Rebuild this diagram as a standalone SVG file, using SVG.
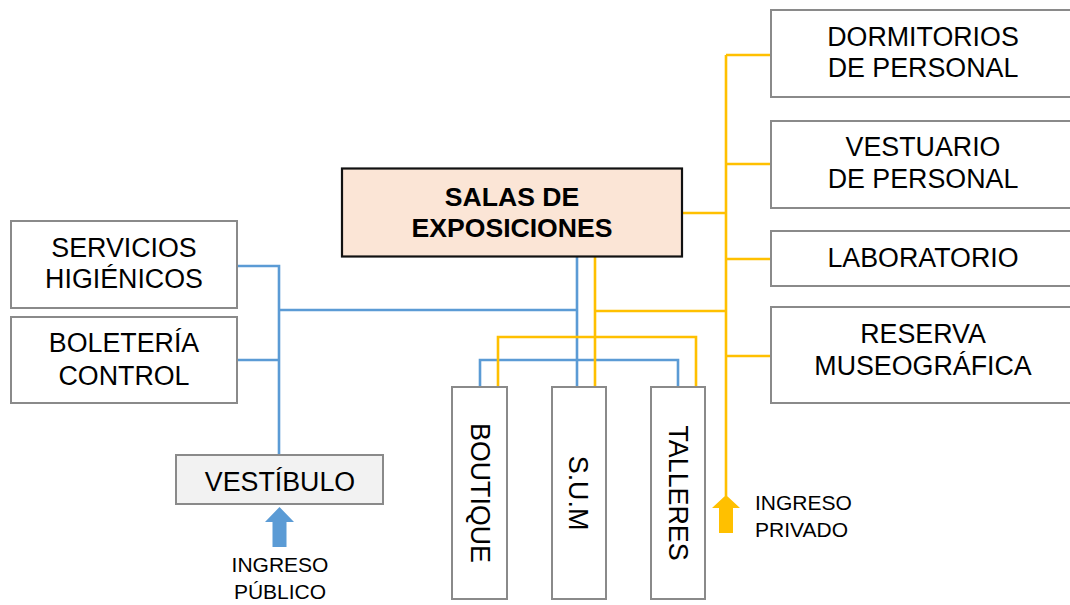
<svg xmlns="http://www.w3.org/2000/svg" width="1070" height="605" viewBox="0 0 1070 605">
<style>
.box{fill:#fff;stroke:#8a8a8a;stroke-width:2}
.main{fill:#fbe5d6;stroke:#111;stroke-width:2.2}
.gray{fill:#f2f2f2;stroke:#8a8a8a;stroke-width:2}
.t{font-family:"Liberation Sans",Arial,sans-serif;font-size:26.8px;fill:#000;text-anchor:middle}
.tb{font-family:"Liberation Sans",Arial,sans-serif;font-size:26.6px;font-weight:bold;fill:#000;text-anchor:middle}
.s{font-family:"Liberation Sans",Arial,sans-serif;font-size:21px;fill:#000}
.blue{fill:none;stroke:#5b9bd5;stroke-width:2.6}
.yel{fill:none;stroke:#ffc000;stroke-width:2.6}
</style>
<rect width="1070" height="605" fill="#fff"/>
<g id="connectors">
  <path class="blue" d="M577,257 V387 M279,310 H577 M480,387 V360 H678 V387 M237,266 H279 V455 M237,360 H279"/>
  <path class="yel" d="M595,257 V387 M595,311 H726 M498,387 V337 H696 V387 M726,55 V496 M726,55 H771 M726,164 H771 M726,259 H771 M726,356 H771 M682,213 H726"/>
  <polygon points="726,495 740,508 733,508 733,533 719,533 719,508 712,508" fill="#ffc000"/>
  <polygon points="279.5,507 294,522 286.5,522 286.5,547 272.5,547 272.5,522 265,522" fill="#5b9bd5"/>
</g>
<g id="salas">
  <rect class="main" x="342" y="168.5" width="340" height="88"/>
  <text class="tb" x="512" y="205.5">SALAS DE</text>
  <text class="tb" x="512" y="236.5">EXPOSICIONES</text>
</g>
<g id="servicios">
  <rect class="box" x="11" y="221" width="226" height="87"/>
  <text class="t" x="124" y="256.5">SERVICIOS</text>
  <text class="t" x="124" y="288">HIGIÉNICOS</text>
</g>
<g id="boleteria">
  <rect class="box" x="11" y="317" width="226" height="86"/>
  <text class="t" x="124" y="351.5">BOLETERÍA</text>
  <text class="t" x="124" y="385">CONTROL</text>
</g>
<g id="vestibulo">
  <rect class="gray" x="176" y="455" width="207" height="49"/>
  <text class="t" x="280" y="490.5">VESTÍBULO</text>
</g>
<g id="ingreso-publico">
  <text class="s" x="280" y="572" text-anchor="middle">INGRESO</text>
  <text class="s" x="280" y="599" text-anchor="middle">PÚBLICO</text>
</g>
<g id="boutique">
  <rect class="box" x="452" y="387" width="55" height="212"/>
  <text class="t" transform="translate(471,493) rotate(90)">BOUTIQUE</text>
</g>
<g id="sum">
  <rect class="box" x="552" y="387" width="54" height="212"/>
  <text class="t" transform="translate(569,493) rotate(90)">S.U.M</text>
</g>
<g id="talleres">
  <rect class="box" x="651" y="387" width="54" height="212"/>
  <text class="t" transform="translate(668.5,493) rotate(90)">TALLERES</text>
</g>
<g id="ingreso-privado">
  <text class="s" x="755" y="510">INGRESO</text>
  <text class="s" x="755" y="537">PRIVADO</text>
</g>
<g id="dormitorios">
  <rect class="box" x="771" y="10" width="310" height="87"/>
  <text class="t" x="923" y="45.5">DORMITORIOS</text>
  <text class="t" x="923" y="77">DE PERSONAL</text>
</g>
<g id="vestuario">
  <rect class="box" x="771" y="121" width="310" height="87"/>
  <text class="t" x="923" y="156">VESTUARIO</text>
  <text class="t" x="923" y="188">DE PERSONAL</text>
</g>
<g id="laboratorio">
  <rect class="box" x="771" y="231" width="310" height="55"/>
  <text class="t" x="923" y="266.5">LABORATORIO</text>
</g>
<g id="reserva">
  <rect class="box" x="771" y="307" width="310" height="96"/>
  <text class="t" x="923" y="342.5">RESERVA</text>
  <text class="t" x="923" y="375">MUSEOGRÁFICA</text>
</g>
</svg>
